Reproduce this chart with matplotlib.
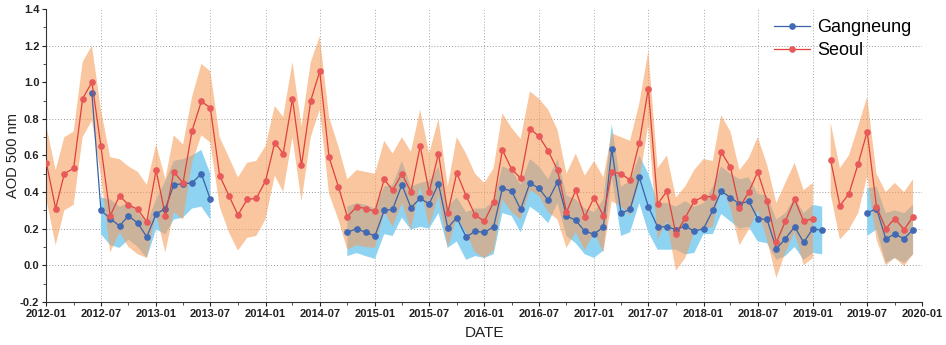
import numpy as np
import pandas as pd
import matplotlib
matplotlib.use("Agg")
import matplotlib.pyplot as plt
import matplotlib.dates as mdates

N = None
dates = pd.date_range("2012-01-01", periods=96, freq="MS")

seoul_mean = [0.56, 0.31, 0.50, 0.53, 0.91, 1.00, 0.65, 0.27, 0.38, 0.33, 0.305, 0.237,
              0.52, 0.27, 0.51, 0.45, 0.735, 0.895, 0.86, 0.49, 0.38, 0.275, 0.36, 0.365,
              0.46, 0.67, 0.61, 0.91, 0.545, 0.90, 1.06, 0.59, 0.43, 0.265, 0.32, 0.31,
              0.295, 0.47, 0.41, 0.50, 0.40, 0.65, 0.40, 0.61, 0.285, 0.505, 0.38, 0.275,
              0.24, 0.345, 0.63, 0.525, 0.475, 0.745, 0.705, 0.625, 0.52, 0.29, 0.41, 0.265,
              0.37, 0.27, 0.51, 0.50, 0.465, 0.67, 0.965, 0.335, 0.405, 0.17, 0.26, 0.35,
              0.375, 0.375, 0.62, 0.535, 0.315, 0.40, 0.51, 0.35, 0.125, 0.24, 0.36, 0.24,
              0.255, N, 0.575, 0.325, 0.39, 0.555, 0.73, 0.32, 0.20, 0.255, 0.195, 0.265]
seoul_upper = [0.76, 0.52, 0.70, 0.73, 1.11, 1.20, 0.85, 0.59, 0.58, 0.54, 0.51, 0.44,
               0.66, 0.47, 0.71, 0.66, 0.92, 1.10, 1.06, 0.70, 0.59, 0.48, 0.56, 0.57,
               0.65, 0.87, 0.81, 1.11, 0.76, 1.11, 1.25, 0.81, 0.65, 0.47, 0.52, 0.51,
               0.50, 0.68, 0.61, 0.70, 0.62, 0.85, 0.61, 0.80, 0.43, 0.70, 0.61, 0.50,
               0.45, 0.53, 0.83, 0.75, 0.69, 0.95, 0.91, 0.85, 0.74, 0.50, 0.61, 0.49,
               0.57, 0.48, 0.72, 0.70, 0.68, 0.885, 1.17, 0.53, 0.60, 0.37, 0.43, 0.52,
               0.58, 0.57, 0.82, 0.73, 0.52, 0.585, 0.70, 0.55, 0.34, 0.45, 0.56, 0.41,
               0.45, N, 0.78, 0.53, 0.60, 0.76, 0.92, 0.50, 0.40, 0.45, 0.40, 0.47]
seoul_lower = [0.36, 0.11, 0.30, 0.33, 0.70, 0.79, 0.49, 0.07, 0.18, 0.10, 0.06, 0.04,
               0.28, 0.07, 0.29, 0.25, 0.56, 0.71, 0.67, 0.32, 0.18, 0.08, 0.15, 0.16,
               0.25, 0.49, 0.40, 0.70, 0.35, 0.70, 0.85, 0.39, 0.25, 0.085, 0.11, 0.10,
               0.095, 0.29, 0.21, 0.34, 0.195, 0.43, 0.21, 0.38, 0.095, 0.26, 0.18, 0.07,
               0.04, 0.08, 0.36, 0.29, 0.25, 0.41, 0.38, 0.29, 0.25, 0.095, 0.18, 0.08,
               0.18, 0.07, 0.35, 0.32, 0.27, 0.46, 0.77, 0.14, 0.24, -0.03, 0.04, 0.18,
               0.20, 0.21, 0.44, 0.31, 0.11, 0.195, 0.30, 0.14, -0.07, 0.07, 0.18, 0.0,
               0.04, N, 0.39, 0.14, 0.195, 0.285, 0.485, 0.14, 0.0, 0.04, -0.005, 0.06]

gang_mean = [N, N, N, N, N, 0.94, 0.30, 0.255, 0.215, 0.27, 0.23, 0.155,
             0.28, 0.31, 0.44, 0.445, 0.45, 0.50, 0.36, N, N, N, N, N,
             N, N, N, N, N, N, N, N, N, 0.18, 0.20, 0.18,
             0.16, 0.30, 0.305, 0.44, 0.315, 0.365, 0.335, 0.445, 0.205, 0.26, 0.155, 0.185,
             0.18, 0.21, 0.42, 0.405, 0.305, 0.45, 0.42, 0.355, 0.455, 0.27, 0.245, 0.185,
             0.17, 0.21, 0.635, 0.285, 0.305, 0.48, 0.32, 0.21, 0.21, 0.195, 0.215, 0.185,
             0.20, 0.30, 0.405, 0.37, 0.335, 0.35, 0.255, 0.25, 0.09, 0.145, 0.21, 0.125,
             0.20, 0.19, N, N, N, N, 0.285, 0.31, 0.145, 0.17, 0.145, 0.195]
gang_upper = [N, N, N, N, N, N, 0.37, 0.36, 0.32, 0.34, 0.29, 0.23,
              0.36, 0.46, 0.57, 0.58, 0.60, 0.63, 0.50, N, N, N, N, N,
              N, N, N, N, N, N, N, N, N, 0.32, 0.34, 0.33,
              0.31, 0.43, 0.44, 0.57, 0.43, 0.45, 0.46, 0.54, 0.32, 0.37, 0.29, 0.31,
              0.31, 0.35, 0.54, 0.52, 0.44, 0.58, 0.54, 0.47, 0.58, 0.38, 0.36, 0.31,
              0.29, 0.36, 0.77, 0.43, 0.46, 0.60, 0.50, 0.34, 0.34, 0.32, 0.35, 0.32,
              0.34, 0.43, 0.54, 0.50, 0.47, 0.48, 0.39, 0.38, 0.25, 0.285, 0.37, 0.285,
              0.33, 0.32, N, N, N, N, 0.42, 0.43, 0.285, 0.30, 0.285, 0.33]
gang_lower = [N, N, N, N, N, N, 0.17, 0.11, 0.095, 0.14, 0.10, 0.04,
              0.195, 0.17, 0.25, 0.26, 0.31, 0.32, 0.25, N, N, N, N, N,
              N, N, N, N, N, N, N, N, N, 0.05, 0.067, 0.05,
              0.035, 0.17, 0.16, 0.26, 0.195, 0.21, 0.20, 0.285, 0.095, 0.13, 0.03, 0.05,
              0.04, 0.06, 0.285, 0.27, 0.18, 0.32, 0.285, 0.23, 0.34, 0.16, 0.12, 0.06,
              0.04, 0.08, 0.485, 0.16, 0.18, 0.34, 0.18, 0.085, 0.085, 0.085, 0.06, 0.067,
              0.17, 0.17, 0.28, 0.24, 0.20, 0.21, 0.13, 0.12, 0.03, 0.05, 0.10, 0.03,
              0.067, 0.06, N, N, N, N, 0.16, 0.195, 0.013, 0.04, 0.013, 0.06]

y_ticks = [-0.2, 0.0, 0.2, 0.4, 0.6, 0.8, 1.0, 1.2, 1.4]
grid_y = [0.0, 0.2, 0.4, 0.8, 1.2]

def arr(v):
    return np.array(v, dtype=float)

plt.rcParams['font.family'] = ['Liberation Sans', 'DejaVu Sans']

fig = plt.figure(figsize=(9.46, 3.45), dpi=100)
ax = fig.add_axes([0.049, 0.125, 0.926, 0.849])

ax.fill_between(dates, arr(gang_lower), arr(gang_upper), color='#8fd3f2', lw=0, zorder=1)
ax.fill_between(dates, arr(seoul_lower), arr(seoul_upper), color='#f59d5b', alpha=0.58, lw=0, zorder=2)

ax.plot(dates, arr(gang_mean), color='#3a62a6', lw=0.9, marker='o', ms=3.8,
        markerfacecolor='#4169b4', markeredgecolor='#4169b4', label='Gangneung', zorder=4)
ax.plot(dates, arr(seoul_mean), color='#e0403c', lw=0.9, marker='o', ms=3.8,
        markerfacecolor='#e85a5a', markeredgecolor='#e85a5a', label='Seoul', zorder=5)

ax.set_xlim(pd.Timestamp('2012-01-01'), pd.Timestamp('2020-01-01'))
ax.set_ylim(-0.2, 1.4)

ax.xaxis.set_major_locator(mdates.MonthLocator(bymonth=[1, 7]))
ax.xaxis.set_major_formatter(mdates.DateFormatter('%Y-%m'))
ax.xaxis.set_minor_locator(mdates.MonthLocator(bymonth=[4, 10]))
ax.set_yticks(y_ticks)
ax.set_yticks(np.arange(-0.2, 1.41, 0.1), minor=True)
ax.yaxis.set_major_formatter(matplotlib.ticker.FormatStrFormatter('%.1f'))

for yv in grid_y:
    ax.axhline(yv, color='#9a9a9a', lw=0.7, ls=(0, (1, 2)), zorder=0)
for d in pd.date_range('2012-07-01', '2019-07-01', freq='6MS'):
    ax.axvline(d, color='#a8a8a8', lw=0.7, ls=(0, (1, 2)), zorder=0)

for s in ['top', 'right']:
    ax.spines[s].set_visible(False)
for s in ['left', 'bottom']:
    ax.spines[s].set_color('#333333')
    ax.spines[s].set_linewidth(0.8)

ax.tick_params(axis='both', which='major', direction='out', length=3, width=0.8,
               labelsize=8, colors='#222222', pad=2)
ax.tick_params(axis='both', which='minor', direction='out', length=2, width=0.6, colors='#333333')
for lab in ax.get_xticklabels() + ax.get_yticklabels():
    lab.set_fontweight('bold')

ax.set_ylabel('AOD 500 nm', fontsize=10.5, color='#222222', labelpad=0)
ax.set_xlabel('DATE', fontsize=11, color='#222222', labelpad=5)

leg = ax.legend(loc='upper right', frameon=False, fontsize=13, handlelength=2.0,
                handletextpad=0.4, labelspacing=0.3, borderaxespad=0.1,
                bbox_to_anchor=(0.998, 0.995))

fig.savefig('out.png', dpi=100)
